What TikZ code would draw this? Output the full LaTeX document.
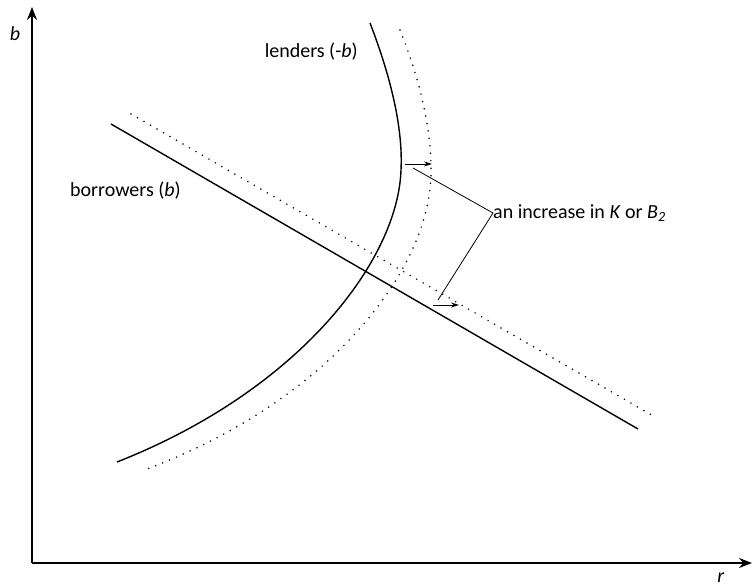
\documentclass[tikz,border=0pt]{standalone}
\usepackage{fontspec}
\setmainfont{Carlito}
\usetikzlibrary{arrows.meta, calc}
\colorlet{curveK}{black}
\tikzstyle{axis}=[line width=1.2pt, -{Stealth[length=13pt, width=10pt]}]
\tikzstyle{shiftarrow}=[line width=0.9pt, -{Stealth[length=8pt, width=5pt]}]
\tikzstyle{solidcurve}=[line width=1.4pt, curveK]
\tikzstyle{dotcurve}=[line width=1.7pt, curveK, line cap=round, dash pattern=on 0pt off 7.5pt]
\tikzstyle{lbl}=[inner sep=0pt, font=\fontsize{20}{24}\selectfont]

\begin{document}
\begin{tikzpicture}[x=1pt, y=-1pt]
			\useasboundingbox (0,0) rectangle (753,588);

			% Axes
			\coordinate (O) at (32,563);
			\coordinate (ytip) at (32,7);
			\coordinate (xtip) at (752,563);
			\draw[axis] (O) -- (ytip);
			\draw[axis] (O) -- (xtip);
			\node[lbl] (blab) at (15,34) {\textit{b}};
			\node[lbl] (rlab) at (721,578) {\textit{r}};

			% Borrowers (b)
			\coordinate (bor1) at (111,124);
			\coordinate (bor2) at (638,429);
			\coordinate (bor1s) at (131,114);
			\coordinate (bor2s) at (655,417);
			\draw[solidcurve] (bor1) -- (bor2);
			\draw[dotcurve] (bor1s) -- (bor2s);

			% Lenders (-b)
			\coordinate (len1) at (370,23);
			\coordinate (len2) at (401,170);
			\coordinate (len3) at (117,462);
			\coordinate (len1s) at (400,30);
			\coordinate (len2s) at (431,175);
			\coordinate (len3s) at (147,469);
			\draw[solidcurve] (len1) .. controls (392,80) and (403,130) .. (len2)
				.. controls (398,260) and (300,390) .. (len3);
			\draw[dotcurve] (len1s) .. controls (420,80) and (432,130) .. (len2s)
				.. controls (429,270) and (330,400) .. (len3s);

			\node[lbl, anchor=east] (lend) at (358,52) {lenders (-\textit{b})};
			\node[lbl, anchor=west] (borr) at (70,191) {borrowers (\textit{b})};

			% Shifts
			\coordinate (s1a) at (405,164);
			\coordinate (s1b) at (432,164);
			\coordinate (s2a) at (433,305);
			\coordinate (s2b) at (459,305);
			\draw[shiftarrow] (s1a) -- (s1b);
			\draw[shiftarrow] (s2a) -- (s2b);

			\node[lbl, anchor=west] (incr) at (493,213) {an increase in \textit{K} or \textit{B}\textsubscript{\textit{2}}};
			\coordinate (t1) at (413,168);
			\coordinate (t2) at (438,300);
			\draw[line width=0.8pt] (t1) -- (incr.west) -- (t2);
		\end{tikzpicture}
\end{document}
